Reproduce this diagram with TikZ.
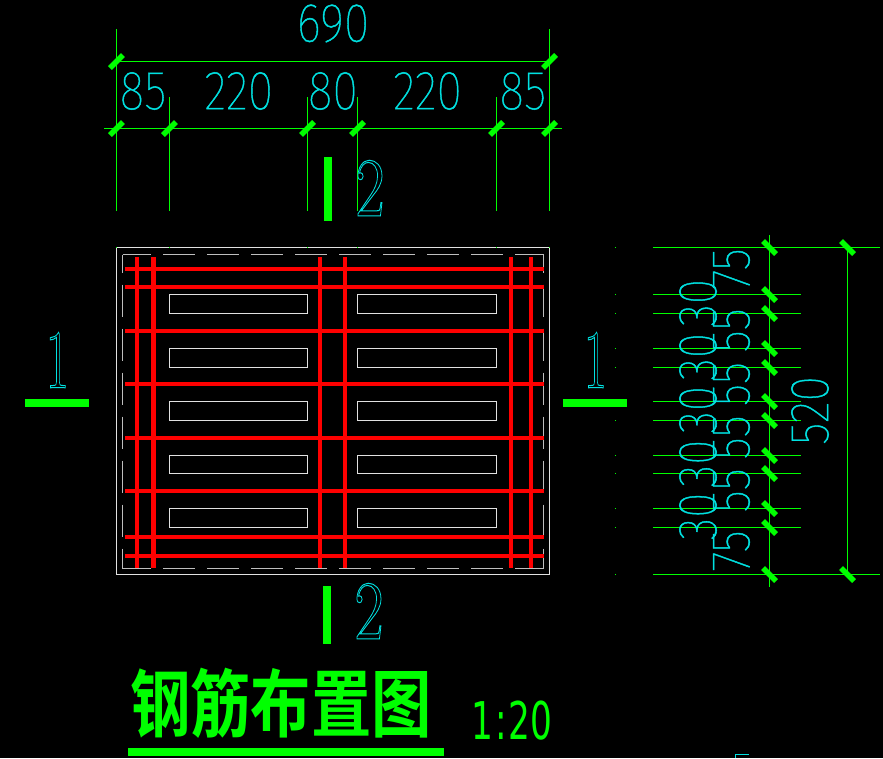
\documentclass[tikz,border=0pt]{standalone}
\usepackage{fontspec}
\usetikzlibrary{positioning}
\newfontfamily\cadfont{Fira Sans Thin}
\newfontfamily\secfont{Latin Modern Roman}
\newfontfamily\plainfont{DejaVu Sans}
\newfontfamily\cjkfont{Noto Sans CJK SC}[BoldFont={Noto Sans CJK SC Bold}]
\definecolor{cadgreen}{RGB}{0,255,0}
\definecolor{cadcyan}{RGB}{0,225,225}
\definecolor{cadred}{RGB}{255,0,0}
\definecolor{cadwhite}{RGB}{225,225,225}
\definecolor{cadgray}{RGB}{190,190,190}
\newcommand{\hollow}[1]{\special{pdf:code 1 Tr 1 w}#1\special{pdf:code 0 Tr}}
\newcommand{\traced}[1]{\special{pdf:code 2 Tr 0.5 w}#1\special{pdf:code 0 Tr}}
\tikzset{
    dimline/.style = {cadgreen, line width = 1.3pt},
    dimtick/.style = {cadgreen, line width = 5.5pt},
    dimfont/.style = {cadcyan, inner sep = 0pt, font = \fontsize{55}{55}\cadfont},
    dimtext/.style = {dimfont, xscale = .85},
    dimtextv/.style = {dimfont, rotate = 90, xscale = .85},
    sectext/.style = {cadcyan, inner sep = 0pt, font = \fontsize{84}{84}\secfont, xscale = .76},
    secbar/.style = {cadgreen, line width = 8pt},
    rebar/.style = {cadred, line width = 4pt},
    opening/.style = {cadwhite, line width = 1.2pt},
    hidden/.style = {cadgray, line width = 1pt},
}
\begin{document}
\begin{tikzpicture}[x = 1pt, y = -1pt]
    \fill [black] (0,0) rectangle (883,758);
    \useasboundingbox (0,0) rectangle (883,758);

    % top dimensions
    \draw [dimline] (116.5,61.5) -- (549.5,61.5);
    \draw [dimline] (104,128.5) -- (562,128.5);
    \foreach \xpos/\ytop in {116.5/29, 169.5/97, 307.5/97, 357.5/97, 496.5/97, 549.5/29}
        \draw [dimline] (\xpos,\ytop) -- (\xpos,211);
    \foreach \xpos in {116.5, 169.5, 307.5, 357.5, 496.5, 549.5}
        \draw [dimtick] (\xpos-6.5,135) -- (\xpos+6.5,122);
    \foreach \xpos in {116.5, 549.5}
        \draw [dimtick] (\xpos-6.5,68) -- (\xpos+6.5,55);
    \node [dimtext] (total) at (333,23.5) {\traced{690}};
    \foreach \xpos/\dimval in {143/85, 238.7/220, 332.8/80, 427.5/220, 522.8/85}
        \node [dimtext] (w\dimval) at (\xpos,91) {\traced{\dimval}};

    % plan outline
    \draw [opening] (116.5,247.5) rectangle (549.5,574.5);
    \foreach \ypos in {254.5, 568.5}
        \draw [hidden, dash pattern = on 32pt off 12pt, dash phase = 3.5pt] (122.5,\ypos) -- (543.5,\ypos);
    \foreach \xpos in {122.5, 543.5}
        \draw [hidden, dash pattern = on 32pt off 12pt, dash phase = 13.8pt] (\xpos,254.5) -- (\xpos,568.5);

    % openings
    \foreach \ytop/\ybot in {294.5/313.5, 348.5/367.5, 401.5/420.5, 455.5/473.5, 508.5/527.5} {
        \draw [opening] (169.5,\ytop) rectangle (307.5,\ybot);
        \draw [opening] (357.5,\ytop) rectangle (496.5,\ybot);
    }

    % bars
    \foreach \xpos in {137, 320, 345, 511, 531}
        \draw [rebar] (\xpos,257) -- (\xpos,568);
    \draw [rebar, line width = 5pt] (153.5,257) -- (153.5,568);
    \foreach \ypos in {269, 287, 331, 384, 438, 491, 537, 556}
        \draw [rebar] (125,\ypos) -- (543.7,\ypos);

    % specks left by the extension lines
    \foreach \xpos in {116.5, 169.5, 307.5, 357.5, 496.5, 549.5}
        \fill [cadgreen] (\xpos-.5,247) rectangle (\xpos+.5,248);
    \foreach \ypos in {247.5, 294.5, 313.5, 348.5, 367.5, 401.5, 420.5, 455.5, 473.5, 508.5, 527.5, 574.5}
        \fill [cadgreen] (615,\ypos-.5) rectangle (616,\ypos+.5);

    % section marks
    \draw [secbar] (328,157) -- (328,221);
    \draw [secbar] (327,586) -- (327,644);
    \draw [secbar] (25,403) -- (89,403);
    \draw [secbar] (563,403) -- (627,403);
    \node [sectext] (secta) at (370,188) {\hollow{2}};
    \node [sectext] (sectb) at (369,611) {\hollow{2}};
    \node [sectext, xscale = .8] (sectc) at (57.5,360) {\hollow{1}};
    \node [sectext, xscale = .8] (sectd) at (595.5,360) {\hollow{1}};

    % right dimensions
    \draw [dimline] (769.5,235) -- (769.5,587);
    \draw [dimline] (847.5,247) -- (847.5,574);
    \foreach \ypos in {247.5, 574.5} {
        \draw [dimline] (653,\ypos) -- (880,\ypos);
        \draw [dimtick] (841,\ypos-6.5) -- (854,\ypos+6.5);
    }
    \foreach \ypos in {294.5, 313.5, 348.5, 367.5, 401.5, 420.5, 455.5, 473.5, 508.5, 527.5}
        \draw [dimline] (653,\ypos) -- (801,\ypos);
    \foreach \ypos in {247.5, 294.5, 313.5, 348.5, 367.5, 401.5, 420.5, 455.5, 473.5, 508.5, 527.5, 574.5}
        \draw [dimtick] (763,\ypos-6.5) -- (776,\ypos+6.5);
    \foreach \ypos in {302.7, 356.7, 409.7, 463.3, 516.3}
        \node [dimtextv] at (698,\ypos) {\traced{30}};
    \foreach \ypos in {330.3, 384, 437.3, 490.3}
        \node [dimtextv] at (731.5,\ypos) {\traced{55}};
    \foreach \ypos in {269, 551}
        \node [dimtextv] at (731.5,\ypos) {\traced{75}};
    \node [dimtextv] (height) at (810,410.5) {\traced{520}};

    % title
    \node [cadgreen, inner sep = 0pt, font = \fontsize{74}{74}\cjkfont\bfseries, xscale = .815] (title) at (281,703) {钢筋布置图};
    \draw [cadgreen, line width = 8pt] (128,752) -- (444,752);
    \node [cadgreen, inner sep = 0pt, font = \fontsize{52}{52}\plainfont, xscale = .66] (scaletext) at (512,721) {1\kern3pt:\kern3pt20};
    \draw [cadcyan, line width = 1pt] (735,758) -- (735,754.5) -- (749,754.5);
\end{tikzpicture}
\end{document}
